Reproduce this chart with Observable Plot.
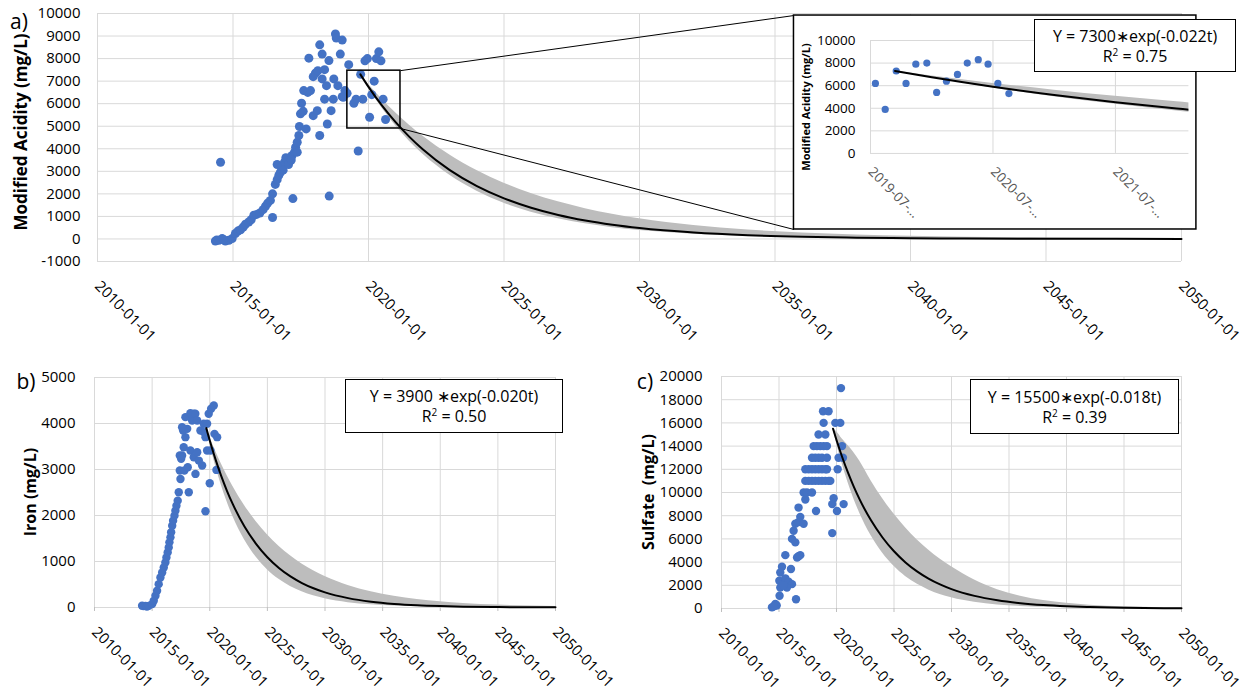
<!DOCTYPE html>
<html><head><meta charset="utf-8">
<script src="https://cdn.jsdelivr.net/npm/d3@7"></script>
<script src="https://cdn.jsdelivr.net/npm/@observablehq/plot@0.6"></script>
<style>
html,body{margin:0;padding:0;background:#fff;}
#root{position:relative;width:1244px;height:696px;overflow:hidden;font-family:"Open Sans",sans-serif;color:#000;}
#root svg{position:absolute;overflow:visible;}
.rot{position:absolute;font-weight:bold;white-space:pre;transform:translate(-50%,-50%) rotate(-90deg);line-height:1;}
.plab{position:absolute;font-size:21px;transform:translate(-50%,-50%);line-height:1;}
.eq{position:absolute;box-sizing:border-box;border:1px solid #000;background:#fff;text-align:center;font-size:16px;line-height:20px;display:flex;flex-direction:column;justify-content:center;}
</style></head><body><div id="root"></div>
<script>
// ---------- DATA ----------
const yearTicks = [2010, 2015, 2020, 2025, 2030, 2035, 2040, 2045, 2050];
const yearTickLabels = ["2010-01-01","2015-01-01","2020-01-01","2025-01-01","2030-01-01","2035-01-01","2040-01-01","2045-01-01","2050-01-01"];
const acidTicks = [-1000,0,1000,2000,3000,4000,5000,6000,7000,8000,9000,10000];
const ironTicks = [0,1000,2000,3000,4000,5000];
const sulfateTicks = [0,2000,4000,6000,8000,10000,12000,14000,16000,18000,20000];
const insetYTicks = [0,2000,4000,6000,8000,10000];
const insetXTicks = [2019.5, 2020.5, 2021.5];
const insetXTickLabels = ["2019-07-…","2020-07-…","2021-07-…"];

// Modified acidity (panel a), decimal years
const acidYears = [2014.54,2014.35,2014.48,2014.60,2014.72,2014.85,2014.97,2014.40,2014.65,
 2015.09,2015.18,2015.28,2015.38,2015.46,2015.58,2015.67,2015.77,2015.87,2015.99,
 2016.11,2016.20,2016.28,2016.38,2016.46,2016.46,2016.56,2016.63,2016.69,2016.75,2016.63,2016.81,2016.90,
 2017.00,2017.10,2017.18,2017.27,2017.31,2017.37,2017.43,2017.45,2017.70,2017.49,2017.59,2017.53,2017.61,
 2017.76,2017.86,2017.80,2017.96,2018.04,2018.13,2017.96,2018.11,2018.20,2018.29,2018.38,2018.29,2018.45,
 2018.54,2018.48,2018.20,2018.62,2018.38,2018.70,2018.72,2018.78,2018.81,2019.03,2018.96,2018.87,2019.03,
 2019.13,2019.21,2019.27,2019.07,2019.46,2018.55,2017.21,2016.85,2016.95,2017.05,2017.15,2017.37,
 2019.54,2019.62,2019.71,2019.79,2019.87,2019.96,2020.04,2020.12,2020.21,2020.29,2020.38,2020.46,2020.54,2020.63];
const acidValues = [3400,-90,-60,15,-90,-60,15,-50,-20,
 240,350,410,530,650,750,850,1050,1090,1150,
 1300,1450,1590,1710,2000,950,2420,2630,2820,2960,3300,3190,3410,
 3510,3600,3700,3850,4070,4290,4590,4990,4880,5550,5660,6020,6580,
 6500,6580,8020,7200,7350,7460,5470,5690,8610,8200,7510,7100,6800,
 7910,5100,4590,5690,6200,6200,7100,9090,8910,8820,8200,6800,6310,
 6580,6460,7730,6280,6020,1900,1790,3050,3600,3300,3500,3850,
 6200,3900,7300,6200,7900,8000,5400,6400,7000,8000,8300,7900,6200,5300];

// Iron (panel b)
const ironYears = [2014.13,2014.25,2014.42,2014.55,2014.71,2015.00,2015.14,2015.29,2015.43,2015.57,2015.72,2015.87,
 2016.01,2016.15,2016.24,2016.35,2016.44,2016.50,2016.59,2016.65,2016.74,2016.82,2016.94,2017.02,2017.11,2017.22,
 2017.31,2017.46,2017.40,2017.52,2017.60,2017.74,2017.89,2017.69,2018.04,2018.32,2018.61,2018.47,2018.18,2017.80,
 2018.09,2018.32,2018.61,2018.91,2019.05,2019.34,2018.76,2019.19,2019.48,2019.77,2019.63,2019.91,2020.12,2020.35,
 2019.77,2020.06,2020.41,2020.64,2020.58,2020.00,2019.63,2017.60,2017.89,2018.32,2018.75,2018.91,2019.48,2017.40];
const ironValues = [40,30,36,20,36,73,145,254,363,508,653,762,
 871,980,1089,1198,1307,1416,1525,1634,1779,1888,1997,2105,2214,2323,
 2505,2795,2977,3231,3303,3485,3703,3848,3884,4138,4211,4066,2505,2977,
 3049,3412,3267,3376,3194,3086,2904,3848,3993,3993,3703,4211,4320,4392,
 3412,3412,3775,3703,2991,2701,2091,3920,4138,4225,4211,4066,3812,3303];

// Sulfate (panel c)
const sulfateYears = [2020.39,2018.83,2019.31,2018.88,2019.90,2020.33,2018.44,2019.03,
 2018.01,2018.30,2018.59,2018.88,2019.17,2020.48,
 2017.87,2018.16,2018.45,2018.74,2019.17,2020.18,2020.56,
 2017.29,2017.58,2017.87,2018.16,2018.45,2018.74,2019.03,2019.17,2020.10,
 2017.29,2017.58,2017.87,2018.16,2018.45,2018.74,2019.03,2019.32,2019.46,
 2017.14,2017.43,2017.87,2019.75,2017.29,2019.63,2020.62,2018.22,2020.04,2019.63,
 2016.70,2016.85,2016.42,2016.70,2017.14,2016.27,2016.13,2016.42,2016.57,2016.85,2016.70,
 2015.55,2015.26,2015.11,2016.04,2015.03,2015.26,2015.55,2015.84,2016.13,2015.11,2015.69,2015.40,
 2015.05,2016.48,2014.68,2014.39,2014.80,2014.55];
const sulfateValues = [19000,17000,17000,16000,16000,16000,15000,15000,
 14000,14000,14000,14000,14000,14000,
 13000,13000,13000,13000,13000,13000,13000,
 12000,12000,12000,12000,12000,12000,12000,12000,12000,
 11000,11000,11000,11000,11000,11000,11000,11000,11000,
 10000,10000,10000,9500,9400,9000,9000,8400,8400,6500,
 8700,7900,7300,7450,7300,6700,6000,5700,4400,4600,4500,
 4600,3600,3100,3400,2400,2100,2600,2300,2100,1800,1800,2000,
 1100,800,400,100,260,200];

// Exponential decay fits with grey uncertainty band
const fitYears = [2019.7,2020,2020.5,2021,2021.5,2022,2023,2024,2025,2026,2027,2028,2029,2030,2032,2034,2036,2038,2040,2042,2045,2050];
const acidFit  = [7300,6745,5910,5179,4539,3978,3055,2346,1802,1384,1062,816,627,481,284,167,99,58,34,20,9,2];
const acidLow  = [7300,6696,5798,5020,4347,3764,2822,2116,1586,1189,892,669,501,376,211,119,67,38,21,12,5,1];
const acidHigh = [7300,6866,6201,5600,5057,4566,3724,3037,2476,2019,1647,1343,1095,893,594,395,263,175,116,77,42,15];
const ironFit  = [3900,3629,3219,2855,2532,2246,1766,1390,1093,860,676,532,418,329,204,126,78,48,30,18,9,3];
const ironLow  = [3900,3571,3083,2661,2297,1984,1478,1102,821,612,456,340,253,189,105,58,32,18,10,6,2,1];
const ironHigh = [3900,3706,3403,3125,2870,2636,2223,1874,1581,1333,1124,948,800,674,480,341,243,173,123,87,52,22];
const sulfateFit  = [15500,14528,13040,11706,10507,9432,7600,6123,4934,3975,3203,2581,2079,1675,1088,706,459,298,193,125,66,22];
const sulfateLow  = [15500,14278,12453,10861,9472,8262,6284,4779,3635,2765,2103,1600,1217,925,536,310,179,104,60,35,15,4];
const sulfateHigh = [15500,15254,14605,14047,13449,12733,11020,9491,8141,6956,5926,5033,4262,3601,2448,1624,1056,685,444,288,152,51];

// zoom window (panel a) and inset frame, in panel-a data units
const zoomBox  = {x1: 2019.22, x2: 2021.18, y1: 4900, y2: 7465};
const insetBox = {x1: 2035.7, x2: 2050.55, y1: 420, y2: 9910};

// ---------- DRAW ----------
const root = document.getElementById("root");
const GRID = "#d9d9d9", BLUE = "#4472C4", BAND = "#bdbdbd";
const FONT = "'Open Sans', sans-serif";

const pts = (xs, ys) => xs.map((x, i) => ({x, y: ys[i]}));
const fitRows = (lo, fit, hi) => fitYears.map((x, i) => ({x, lo: lo[i], fit: fit[i], hi: hi[i]}));

function place(el, left, top) { el.style.left = left + "px"; el.style.top = top + "px"; root.appendChild(el); return el; }
function html(cls, text, css) { const d = document.createElement("div"); d.className = cls; d.innerHTML = text; Object.assign(d.style, css || {}); root.appendChild(d); return d; }

function panel(o) {
  return Plot.plot({
    width: o.width, height: o.height,
    marginLeft: o.ml, marginRight: o.mr, marginTop: o.mt, marginBottom: o.mb,
    style: {fontFamily: FONT, fontSize: "15px", background: "transparent", color: "#000", overflow: "visible"},
    x: {domain: [2010, 2050], label: null},
    y: {domain: o.yDomain, label: null},
    marks: [
      Plot.gridX(yearTicks, {stroke: GRID, strokeOpacity: 1}),
      Plot.gridY(o.yTicks, {stroke: GRID, strokeOpacity: 1}),
      Plot.axisX(yearTicks, {tickFormat: d => yearTickLabels[yearTicks.indexOf(d)], tickRotate: 45, tickSize: o.tickSize, stroke: "#bfbfbf", tickPadding: o.xPad, label: null}),
      Plot.axisY(o.yTicks, {tickFormat: d => String(d), tickSize: 0, tickPadding: o.yPad, label: null}),
      Plot.areaY(o.fit, {x: "x", y1: "lo", y2: "hi", fill: BAND, curve: "monotone-x"}),
      Plot.dot(o.pts, {x: "x", y: "y", r: o.r, fill: BLUE}),
      Plot.line(o.fit, {x: "x", y: "fit", stroke: "#000", strokeWidth: 2, curve: "monotone-x"}),
      ...(o.extra || [])
    ]
  });
}

const acidPts = pts(acidYears, acidValues);
const acidRows = fitRows(acidLow, acidFit, acidHigh);

// Panel a
const A = panel({
  width: 1244, height: 350, ml: 97, mr: 63, mt: 13, mb: 89,
  yDomain: [-1000, 10000], yTicks: acidTicks, xPad: 22, yPad: 17, tickSize: 0, r: 4.5,
  pts: acidPts, fit: acidRows,
  extra: [
    Plot.rect([zoomBox], {x1: "x1", x2: "x2", y1: "y1", y2: "y2", fill: "none", stroke: "#000", strokeWidth: 1.5}),
    Plot.link([
      {x1: zoomBox.x2, y1: zoomBox.y2, x2: insetBox.x1, y2: insetBox.y2},
      {x1: zoomBox.x2, y1: zoomBox.y1, x2: insetBox.x1, y2: insetBox.y1}
    ], {x1: "x1", y1: "y1", x2: "x2", y2: "y2", stroke: "#000", strokeWidth: 1}),
    Plot.rect([insetBox], {x1: "x1", x2: "x2", y1: "y1", y2: "y2", fill: "#fff", stroke: "#000", strokeWidth: 1.5})
  ]
});
place(A, 0, 0);

// Inset
const sx = A.scale("x"), sy = A.scale("y");
const iL = sx.apply(insetBox.x1), iR = sx.apply(insetBox.x2);
const iT = sy.apply(insetBox.y2), iB = sy.apply(insetBox.y1);
const inset = Plot.plot({
  width: iR - iL, height: iB - iT,
  marginLeft: 77, marginRight: 7, marginTop: 25, marginBottom: 76,
  style: {fontFamily: FONT, fontSize: "13.5px", background: "transparent", color: "#000", overflow: "visible"},
  x: {domain: [2019.5, 2022.1], label: null},
  y: {domain: [0, 10000], label: null},
  marks: [
    Plot.gridX(insetXTicks, {stroke: GRID, strokeOpacity: 1}),
    Plot.gridY(insetYTicks, {stroke: GRID, strokeOpacity: 1}),
    Plot.axisX(insetXTicks, {tickFormat: d => insetXTickLabels[insetXTicks.indexOf(d)], tickRotate: 45, tickSize: 0, tickPadding: 16, fill: "#555", label: null}),
    Plot.axisY(insetYTicks, {tickFormat: d => String(d), tickSize: 0, tickPadding: 15, label: null}),
    Plot.areaY(acidRows, {x: "x", y1: "lo", y2: "hi", fill: BAND, curve: "monotone-x", clip: true}),
    Plot.dot(acidPts.filter(d => d.x >= 2019.5), {x: "x", y: "y", r: 3.6, fill: BLUE}),
    Plot.line(acidRows, {x: "x", y: "fit", stroke: "#000", strokeWidth: 2, curve: "monotone-x", clip: true})
  ]
});
place(inset, iL, iT);

// Panel b
const B = panel({
  width: 620, height: 336, ml: 94, mr: 65, mt: 17, mb: 89,
  yDomain: [0, 5000], yTicks: ironTicks, xPad: 18, yPad: 19, tickSize: 4, r: 4.2,
  pts: pts(ironYears, ironValues), fit: fitRows(ironLow, ironFit, ironHigh)
});
place(B, 0, 360);

// Panel c
const C = panel({
  width: 624, height: 336, ml: 101, mr: 63, mt: 16, mb: 88,
  yDomain: [0, 20000], yTicks: sulfateTicks, xPad: 18, yPad: 19, tickSize: 4, r: 4.2,
  pts: pts(sulfateYears, sulfateValues), fit: fitRows(sulfateLow, sulfateFit, sulfateHigh)
});
place(C, 620, 360);

// ---------- TEXT OVERLAYS ----------
html("plab", "a)", {left: "19px", top: "21px"});
html("plab", "b)", {left: "26px", top: "381px"});
html("plab", "c)", {left: "645px", top: "381px"});
html("rot", "Modified Acidity (mg/L)", {left: "20px", top: "132px", fontSize: "17px"});
html("rot", "Iron (mg/L)", {left: "30px", top: "492px", fontSize: "16px"});
html("rot", "Sulfate  (mg/L)", {left: "648px", top: "492px", fontSize: "16px"});
html("rot", "Modified Acidity (mg/L)", {left: (iL + 12) + "px", top: "107px", fontSize: "11px"});
html("eq", "<div>Y = 7300∗exp(-0.022t)</div><div>R<sup style='font-size:10px;line-height:0'>2</sup> = 0.75</div>", {left: "1034px", top: "19px", width: "202px", height: "53px"});
html("eq", "<div>Y = 3900 ∗exp(-0.020t)</div><div>R<sup style='font-size:10px;line-height:0'>2</sup> = 0.50</div>", {left: "345px", top: "379px", width: "218px", height: "54px"});
html("eq", "<div>Y = 15500∗exp(-0.018t)</div><div>R<sup style='font-size:10px;line-height:0'>2</sup> = 0.39</div>", {left: "970px", top: "379px", width: "209px", height: "55px"});
</script></body></html>
